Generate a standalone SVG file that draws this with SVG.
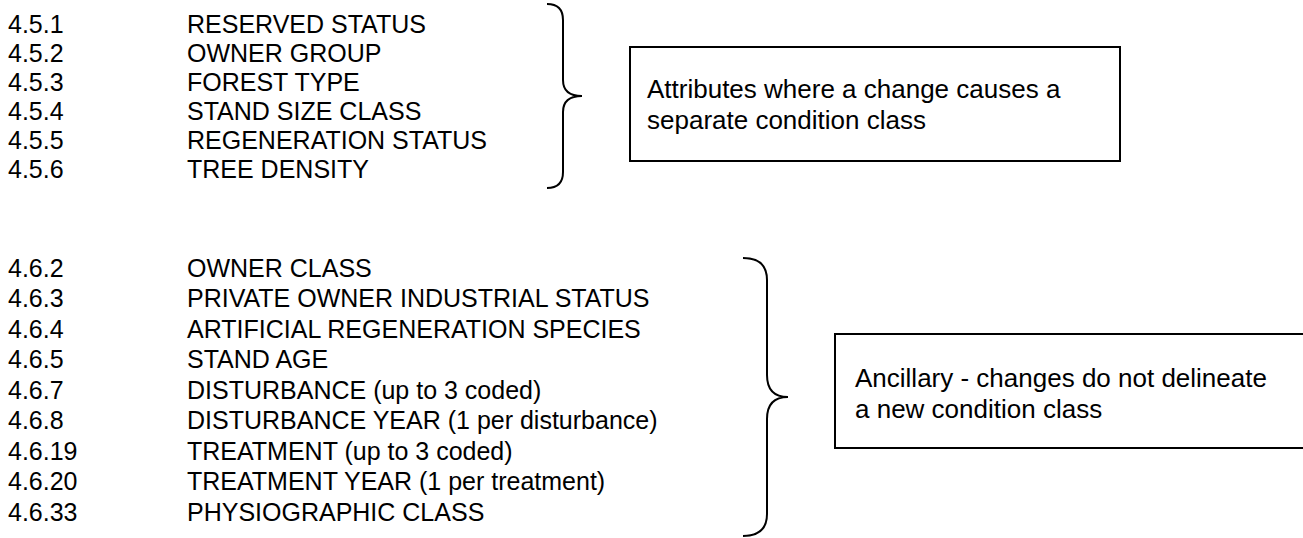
<svg xmlns="http://www.w3.org/2000/svg" width="1303" height="538" viewBox="0 0 1303 538">
<style>
text{font-family:"Liberation Sans",Arial,sans-serif;font-size:25px;fill:#000}
.bt{font-size:26px}
.br{fill:none;stroke:#000;stroke-width:2}
.box{fill:#fff;stroke:#000;stroke-width:2}
</style>
<rect width="1303" height="538" fill="#fff"/>
<g id="list1">
<text x="8" y="33">4.5.1</text><text x="187" y="33">RESERVED STATUS</text>
<text x="8" y="62">4.5.2</text><text x="187" y="62">OWNER GROUP</text>
<text x="8" y="91">4.5.3</text><text x="187" y="91">FOREST TYPE</text>
<text x="8" y="120">4.5.4</text><text x="187" y="120">STAND SIZE CLASS</text>
<text x="8" y="149">4.5.5</text><text x="187" y="149">REGENERATION STATUS</text>
<text x="8" y="178">4.5.6</text><text x="187" y="178">TREE DENSITY</text>
</g>
<g id="list2">
<text x="8" y="277">4.6.2</text><text x="187" y="277">OWNER CLASS</text>
<text x="8" y="307">4.6.3</text><text x="187" y="307">PRIVATE OWNER INDUSTRIAL STATUS</text>
<text x="8" y="338">4.6.4</text><text x="187" y="338">ARTIFICIAL REGENERATION SPECIES</text>
<text x="8" y="368">4.6.5</text><text x="187" y="368">STAND AGE</text>
<text x="8" y="399">4.6.7</text><text x="187" y="399">DISTURBANCE (up to 3 coded)</text>
<text x="8" y="429">4.6.8</text><text x="187" y="429">DISTURBANCE YEAR (1 per disturbance)</text>
<text x="8" y="460">4.6.19</text><text x="187" y="460">TREATMENT (up to 3 coded)</text>
<text x="8" y="490">4.6.20</text><text x="187" y="490">TREATMENT YEAR (1 per treatment)</text>
<text x="8" y="521">4.6.33</text><text x="187" y="521">PHYSIOGRAPHIC CLASS</text>
</g>
<g id="connectors">
<path class="br" d="M547,4 Q563,4 563,20 L563,80 Q563,96 582,96 Q563,96 563,112 L563,172 Q563,188 547,188"/>
<path class="br" d="M743,258 Q767,258 767,280 L767,375 Q767,397 788,397 Q767,397 767,419 L767,514 Q767,536 743,536"/>
</g>
<g id="box1">
<rect class="box" x="630" y="47" width="490" height="114"/>
<text class="bt" x="647" y="98">Attributes where a change causes a</text>
<text class="bt" x="647" y="129">separate condition class</text>
</g>
<g id="box2">
<rect class="box" x="835" y="334" width="480" height="114"/>
<text class="bt" x="855" y="387">Ancillary - changes do not delineate</text>
<text class="bt" x="855" y="418">a new condition class</text>
</g>
</svg>
